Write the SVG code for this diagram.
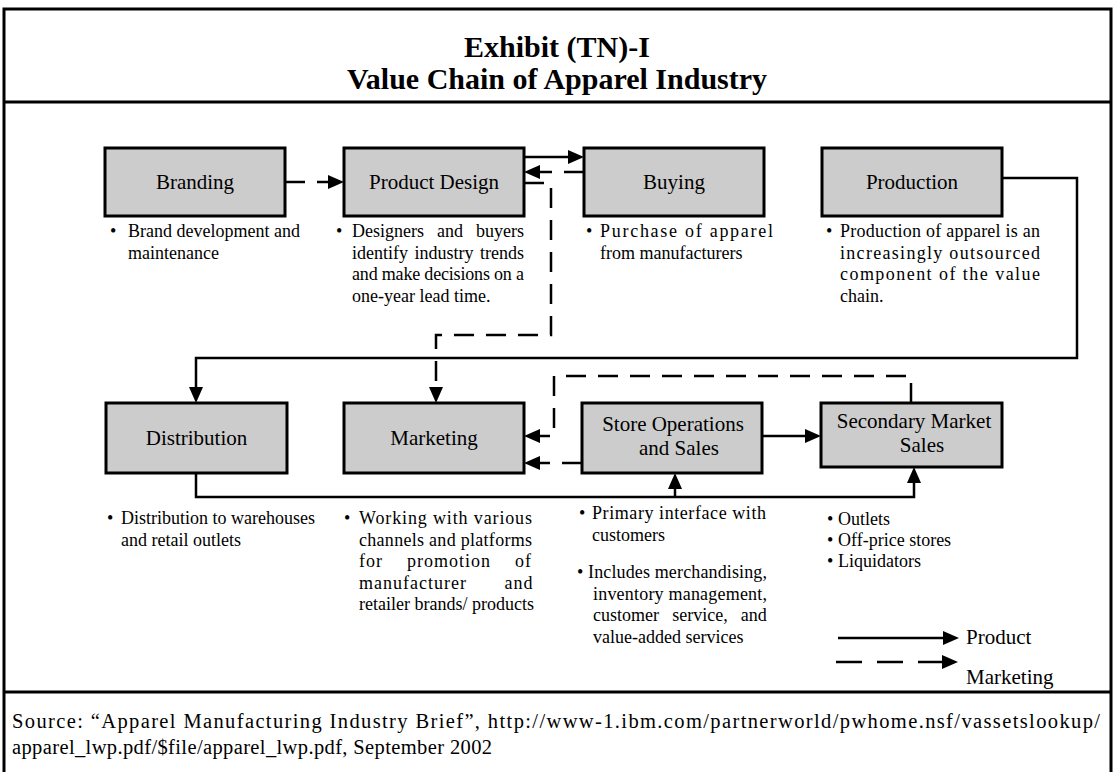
<svg xmlns="http://www.w3.org/2000/svg" width="1115" height="772" viewBox="0 0 1115 772">
<style>
.frame{fill:none;stroke:#000;stroke-width:3}
.box{fill:#cccccc;stroke:#000;stroke-width:3}
.title{font-family:"Liberation Serif","Times New Roman",serif;font-size:30px;font-weight:bold;text-anchor:middle;fill:#000}
.lbl{font-family:"Liberation Serif","Times New Roman",serif;font-size:21px;text-anchor:middle;fill:#000}
.txt{font-family:"Liberation Serif","Times New Roman",serif;font-size:18px;fill:#000}
.src{font-family:"Liberation Serif","Times New Roman",serif;font-size:20.5px;fill:#000}
.leg{font-family:"Liberation Serif","Times New Roman",serif;font-size:21px;fill:#000}
.solid{fill:none;stroke:#000;stroke-width:2.5}
.dash{fill:none;stroke:#000;stroke-width:2.5;stroke-dasharray:20 12}
.ldash{fill:none;stroke:#000;stroke-width:2.5;stroke-dasharray:26 15}
</style>
<defs>
<marker id="ah" markerUnits="userSpaceOnUse" markerWidth="16" markerHeight="14" viewBox="0 0 16 14" refX="1" refY="7" orient="auto">
<path d="M0,0 L16,7 L0,14 z" fill="#000"/>
</marker>
</defs>
<rect width="1115" height="772" fill="#fff"/>
<g id="frame">
<rect class="frame" x="4" y="9" width="1107" height="780"/>
<line class="frame" x1="4" y1="102" x2="1111" y2="102"/>
<line class="frame" x1="4" y1="692" x2="1111" y2="692"/>
</g>
<g id="title">
<text class="title" x="557" y="57">Exhibit (TN)-I</text>
<text class="title" x="557" y="89">Value Chain of Apparel Industry</text>
</g>
<g id="connectors">
<path class="dash" d="M285,182 H329" marker-end="url(#ah)"/>
<path class="solid" d="M524,157 H569" marker-end="url(#ah)"/>
<path class="dash" d="M584,172 H539" marker-end="url(#ah)"/>
<path class="dash" d="M524,183 H551 V335 H436 V388" marker-end="url(#ah)"/>
<path class="solid" d="M1002,178 H1077 V358 H196 V388" marker-end="url(#ah)"/>
<path class="solid" d="M762,436 H806" marker-end="url(#ah)"/>
<path class="dash" d="M911,403 V376 H554 V436 H539" marker-end="url(#ah)"/>
<path class="dash" d="M582,463 H539" marker-end="url(#ah)"/>
<path class="solid" d="M196,473 V497 H914 V482" marker-end="url(#ah)"/>
<path class="solid" d="M675,497 V488" marker-end="url(#ah)"/>
</g>
<g id="branding">
<rect class="box" x="105" y="148" width="180" height="68"/>
<text class="lbl" x="195" y="189">Branding</text>
<text class="txt" y="237"><tspan x="110">•</tspan><tspan x="128">Brand development and</tspan></text>
<text class="txt" x="128" y="258.6">maintenance</text>
</g>
<g id="product-design">
<rect class="box" x="344" y="148" width="180" height="68"/>
<text class="lbl" x="434" y="189">Product Design</text>
<text class="txt" y="237"><tspan x="336">•</tspan><tspan x="352" word-spacing="8.5">Designers and buyers</tspan></text>
<text class="txt" x="352" y="258.6" word-spacing="2">identify industry trends</text>
<text class="txt" x="352" y="280.2" textLength="172" lengthAdjust="spacing">and make decisions on a</text>
<text class="txt" x="352" y="301.8">one-year lead time.</text>
</g>
<g id="buying">
<rect class="box" x="584" y="148" width="180" height="68"/>
<text class="lbl" x="674" y="189">Buying</text>
<text class="txt" y="237"><tspan x="586">•</tspan></text>
<text class="txt" x="600" y="237" textLength="173" lengthAdjust="spacing">Purchase of apparel</text>
<text class="txt" x="600" y="258.6">from manufacturers</text>
</g>
<g id="production">
<rect class="box" x="822" y="148" width="180" height="68"/>
<text class="lbl" x="912" y="189">Production</text>
<text class="txt" y="237"><tspan x="826">•</tspan></text>
<text class="txt" x="840" y="237" textLength="200" lengthAdjust="spacing">Production of apparel is an</text>
<text class="txt" x="840" y="258.6" textLength="200" lengthAdjust="spacing">increasingly outsourced</text>
<text class="txt" x="840" y="280.2" textLength="200" lengthAdjust="spacing">component of the value</text>
<text class="txt" x="840" y="301.8">chain.</text>
</g>
<g id="distribution">
<rect class="box" x="106" y="403" width="181" height="70"/>
<text class="lbl" x="196.5" y="445">Distribution</text>
<text class="txt" y="524"><tspan x="107">•</tspan><tspan x="121">Distribution to warehouses</tspan></text>
<text class="txt" x="121" y="545.6">and retail outlets</text>
</g>
<g id="marketing">
<rect class="box" x="344" y="403" width="180" height="70"/>
<text class="lbl" x="434" y="445">Marketing</text>
<text class="txt" y="524"><tspan x="344">•</tspan></text>
<text class="txt" x="359" y="524" textLength="173" lengthAdjust="spacing">Working with various</text>
<text class="txt" x="359" y="545.6" textLength="173" lengthAdjust="spacing">channels and platforms</text>
<text class="txt" x="359" y="567.2" letter-spacing="1" word-spacing="18.5">for promotion of</text>
<text class="txt" x="359" y="588.8" letter-spacing="1" word-spacing="32">manufacturer and</text>
<text class="txt" x="359" y="610.4">retailer brands/ products</text>
</g>
<g id="store-operations">
<rect class="box" x="582" y="403" width="180" height="70"/>
<text class="lbl" x="673" y="431">Store Operations</text>
<text class="lbl" x="679" y="455">and Sales</text>
<text class="txt" y="519"><tspan x="579">•</tspan></text>
<text class="txt" x="592" y="519" textLength="174" lengthAdjust="spacing">Primary interface with</text>
<text class="txt" x="592" y="540.6">customers</text>
<text class="txt" y="578"><tspan x="577">•</tspan></text>
<text class="txt" x="588" y="578" textLength="179" lengthAdjust="spacing">Includes merchandising,</text>
<text class="txt" x="593" y="599.6" textLength="174" lengthAdjust="spacing">inventory management,</text>
<text class="txt" x="593" y="621.2" word-spacing="8.7">customer service, and</text>
<text class="txt" x="593" y="642.8">value-added services</text>
</g>
<g id="secondary-market">
<rect class="box" x="821" y="403" width="181" height="64"/>
<text class="lbl" x="914" y="428">Secondary Market</text>
<text class="lbl" x="922" y="452">Sales</text>
<text class="txt" y="525"><tspan x="827">•</tspan><tspan x="838">Outlets</tspan></text>
<text class="txt" y="546"><tspan x="827">•</tspan><tspan x="838">Off-price stores</tspan></text>
<text class="txt" y="567"><tspan x="827">•</tspan><tspan x="838">Liquidators</tspan></text>
</g>
<g id="legend">
<path class="solid" d="M838,638 H944" marker-end="url(#ah)"/>
<path class="ldash" d="M836,662 H943" marker-end="url(#ah)"/>
<text class="leg" x="966" y="644">Product</text>
<text class="leg" x="966" y="684">Marketing</text>
</g>
<g id="source">
<text class="src" x="12" y="728" textLength="1088" lengthAdjust="spacing">Source: “Apparel Manufacturing Industry Brief”, http://www-1.ibm.com/partnerworld/pwhome.nsf/vassetslookup/</text>
<text class="src" x="12" y="754" textLength="480" lengthAdjust="spacing">apparel_lwp.pdf/$file/apparel_lwp.pdf, September 2002</text>
</g>
</svg>
